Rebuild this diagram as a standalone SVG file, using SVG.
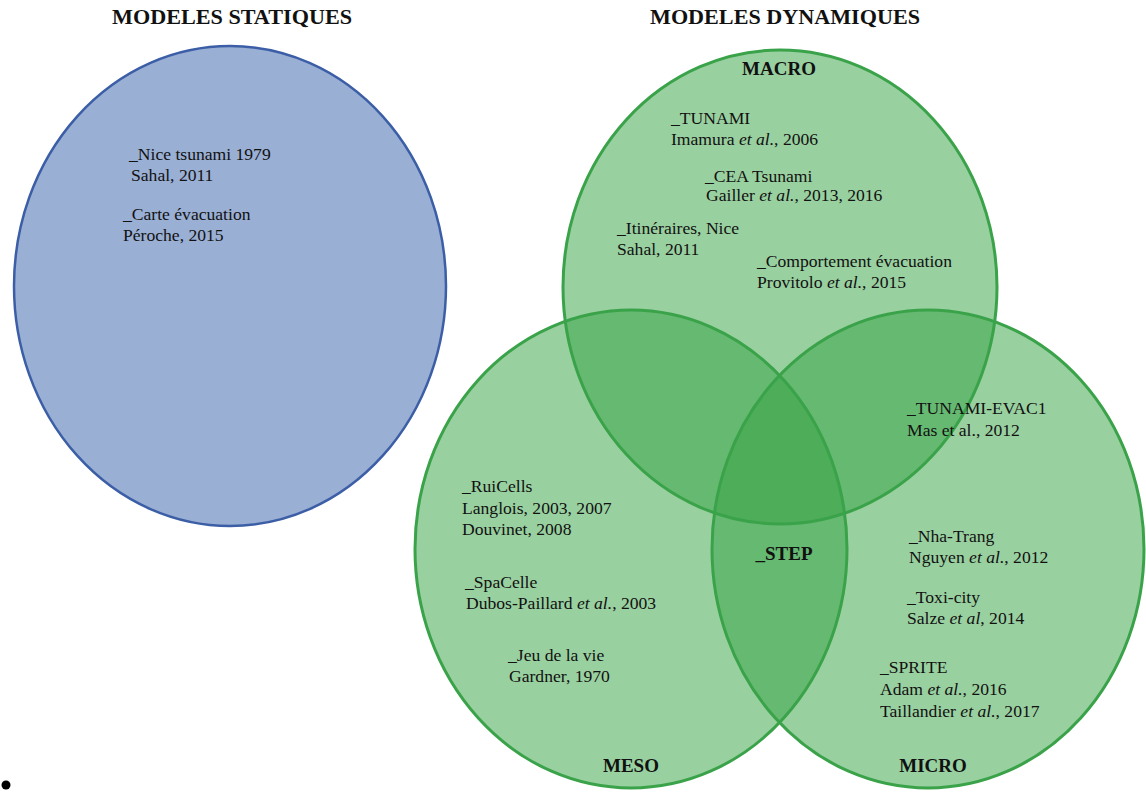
<svg xmlns="http://www.w3.org/2000/svg" width="1146" height="794" viewBox="0 0 1146 794">
<style>
text{font-family:"Liberation Serif","DejaVu Serif",serif;fill:#111;}
.t{font-size:17.6px;}
.h{font-size:21px;font-weight:bold;}
.l{font-size:19px;font-weight:bold;text-anchor:middle;}
.g{fill:#33a141;fill-opacity:0.5;}
.gs{fill:none;stroke:#3aa34a;stroke-width:3;}
</style>
<rect width="1146" height="794" fill="#fff"/>
<text class="h" x="112" y="24" textLength="240" lengthAdjust="spacingAndGlyphs">MODELES STATIQUES</text>
<text class="h" x="650" y="24" textLength="270" lengthAdjust="spacingAndGlyphs">MODELES DYNAMIQUES</text>
<g id="statique">
<ellipse cx="230" cy="286" rx="216" ry="240" fill="#9aafd4" stroke="#3b5ea6" stroke-width="2.5"/>
<text class="t" x="129" y="160">_Nice tsunami 1979</text>
<text class="t" x="131" y="181">Sahal, 2011</text>
<text class="t" x="123" y="220">_Carte évacuation</text>
<text class="t" x="123" y="241">Péroche, 2015</text>
</g>
<g id="fills">
<ellipse class="g" cx="780" cy="287" rx="217" ry="237"/>
<ellipse class="g" cx="631" cy="549" rx="216" ry="239"/>
<ellipse class="g" cx="928" cy="549" rx="216" ry="239"/>
</g>
<g id="macro">
<ellipse class="gs" cx="780" cy="287" rx="217" ry="237"/>
<text class="l" x="779" y="75">MACRO</text>
<text class="t" x="671" y="124">_TUNAMI</text>
<text class="t" x="671" y="145">Imamura <tspan font-style="italic">et al.</tspan>, 2006</text>
<text class="t" x="705" y="182">_CEA Tsunami</text>
<text class="t" x="706" y="201">Gailler <tspan font-style="italic">et al.</tspan>, 2013, 2016</text>
<text class="t" x="617" y="234">_Itinéraires, Nice</text>
<text class="t" x="617" y="255">Sahal, 2011</text>
<text class="t" x="757" y="267">_Comportement évacuation</text>
<text class="t" x="757" y="288">Provitolo <tspan font-style="italic">et al.</tspan>, 2015</text>
</g>
<g id="meso">
<ellipse class="gs" cx="631" cy="549" rx="216" ry="239"/>
<text class="l" x="631" y="772">MESO</text>
<text class="t" x="462" y="492">_RuiCells</text>
<text class="t" x="462" y="514">Langlois, 2003, 2007</text>
<text class="t" x="462" y="535">Douvinet, 2008</text>
<text class="t" x="465" y="588">_SpaCelle</text>
<text class="t" x="466" y="609">Dubos-Paillard <tspan font-style="italic">et al.</tspan>, 2003</text>
<text class="t" x="508" y="661">_Jeu de la vie</text>
<text class="t" x="509" y="682">Gardner, 1970</text>
</g>
<g id="micro">
<ellipse class="gs" cx="928" cy="549" rx="216" ry="239"/>
<text class="l" x="933" y="772">MICRO</text>
<text class="t" x="907" y="414">_TUNAMI-EVAC1</text>
<text class="t" x="907" y="436">Mas et al., 2012</text>
<text class="t" x="909" y="542">_Nha-Trang</text>
<text class="t" x="909" y="563">Nguyen <tspan font-style="italic">et al.</tspan>, 2012</text>
<text class="t" x="907" y="603">_Toxi-city</text>
<text class="t" x="907" y="624">Salze <tspan font-style="italic">et al</tspan>, 2014</text>
<text class="t" x="880" y="673">_SPRITE</text>
<text class="t" x="880" y="695">Adam <tspan font-style="italic">et al.</tspan>, 2016</text>
<text class="t" x="880" y="717">Taillandier <tspan font-style="italic">et al.</tspan>, 2017</text>
</g>
<g id="step">
<text class="l" x="784" y="560">_STEP</text>
</g>
<circle cx="6" cy="785" r="4.5" fill="#000"/>
</svg>
